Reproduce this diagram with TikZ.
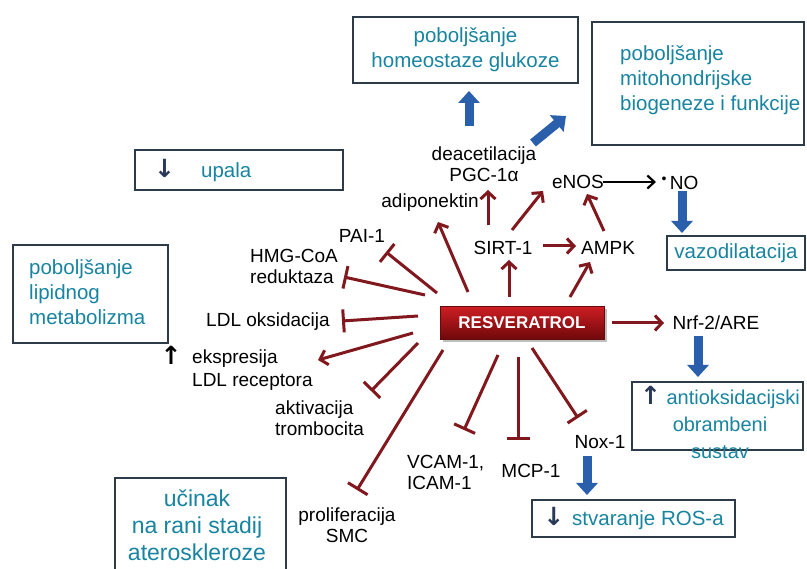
\documentclass[tikz,border=0pt]{standalone}
\usepackage{fontspec}
\setmainfont{Liberation Sans}
\newfontfamily\symf{DejaVu Sans}
\newcommand{\bigar}[1]{{\symf\bfseries\fontsize{25}{25}\selectfont #1}}
\usetikzlibrary{arrows.meta,calc,shadows}
\definecolor{tealc}{RGB}{24,132,160}
\definecolor{boxc}{RGB}{45,58,72}
\definecolor{redc}{RGB}{128,24,30}
\definecolor{bluec}{RGB}{42,95,172}
\definecolor{arrc}{RGB}{40,58,88}
\begin{document}
\begin{tikzpicture}[x=1pt,y=-1pt,
  lbl/.style={inner sep=1pt, font=\fontsize{19}{21}\selectfont, align=center},
  lbll/.style={lbl, align=left, anchor=west},
  tbox/.style={draw=boxc, line width=1.9pt, fill=white, inner sep=0pt},
  ttxt/.style={text=tealc, font=\fontsize{20.5}{25}\selectfont, inner sep=1pt},
  act/.style={draw=redc, line width=3pt, -{Straight Barb[length=7pt,width=15pt]}},
  inh/.style={draw=redc, line width=3pt, -{Bar[width=23pt]}},
  bigarr/.style={draw=bluec, line width=9pt, -{Triangle[length=12pt,width=21pt]}},
  blk/.style={draw=black, line width=2.2pt, -{Straight Barb[length=7pt,width=13pt]}}
]
\clip (0,0) rectangle (807,569);
\fill[white] (0,0) rectangle (807,569);

% boxes
\node[tbox, ttxt, align=center, minimum width=225pt, minimum height=66pt] (gluc) at (465.5,50) {poboljšanje\\homeostaze glukoze};
\node[tbox, minimum width=212pt, minimum height=123pt] (mito) at (698,83.5) {};
\node[ttxt, align=left, anchor=west] (mitoT) at (619,80) {poboljšanje\\mitohondrijske\\biogeneze i funkcije};
\node[tbox, minimum width=208pt, minimum height=40pt] (upala) at (239,170) {};
\node[ttxt, anchor=west] (upalaT) at (153,171) {{\color{arrc}\bigar{↓}}\hspace{26pt}upala};
\node[tbox, minimum width=155pt, minimum height=98pt] (lipid) at (90.5,294) {};
\node[ttxt, align=left, anchor=west] (lipidT) at (28,292) {poboljšanje\\lipidnog\\metabolizma};
\node[tbox, ttxt, minimum width=138pt, minimum height=34pt] (vazo) at (736,253) {vazodilatacija};
\node[tbox, minimum width=171pt, minimum height=68pt] (ant) at (717.5,416) {};
\node[ttxt, align=center, font=\fontsize{20}{27}\selectfont] (antT) at (720,422) {{\color{arrc}\bigar{↑}} antioksidacijski\\obrambeni\\sustav};
\node[tbox, ttxt, minimum width=203pt, minimum height=37pt] (ros) at (633.5,518.5) {{\color{arrc}\bigar{↓}}\hspace{8pt}stvaranje ROS-a};
\node[tbox, minimum width=171pt, minimum height=110pt] (ucin) at (200.5,533) {};
\node[ttxt, align=center, font=\fontsize{23}{27}\selectfont] (ucinT) at (197,525) {učinak\\na rani stadij\\ateroskleroze};

% central node
\node[top color={rgb,255:red,205;green,30;blue,35}, bottom color={rgb,255:red,110;green,8;blue,10},
      draw={rgb,255:red,100;green,10;blue,12}, line width=0.6pt, drop shadow,
      minimum width=164pt, minimum height=33pt, text=white,
      font=\bfseries\fontsize{17}{17}\selectfont] (res) at (522,323) {RESVERATROL};

% labels
\node[lbl] (deac) at (484,164) {deacetilacija\\PGC-1α};
\node[lbl] (adipo) at (430,203) {adiponektin};
\node[lbl] (enos) at (578,182) {eNOS};
\node[lbl] (no) at (680,183) {\raisebox{6pt}{\fontsize{14}{14}\selectfont •}\,NO};
\node[lbl] (sirt) at (503,248) {SIRT-1};
\node[lbl] (ampk) at (608,248) {AMPK};
\node[lbl] (pai) at (362,236) {PAI-1};
\node[lbll] (hmg) at (249,266) {HMG-CoA\\reduktaza};
\node[lbl] (ldlox) at (268,322) {LDL oksidacija};
\node[lbl] (upar) at (171,355) {\bigar{↑}};
\node[lbll] (ekspr) at (191,370) {ekspresija\\[2pt]LDL receptora};
\node[lbll] (aktiv) at (274,418) {aktivacija\\trombocita};
\node[lbll] (vcam) at (406,472) {VCAM-1,\\ICAM-1};
\node[lbl] (mcp) at (531,471) {MCP-1};
\node[lbl] (nox) at (600,442) {Nox-1};
\node[lbl] (nrf) at (716,323) {Nrf-2/ARE};
\node[lbl] (prolif) at (347,525) {proliferacija\\SMC};

% activating arrows
\draw[act] ($(res)+(-54,-31)$) -- ($(adipo)+(8,19)$);
\draw[act] ($(res)+(-13,-26)$) -- ($(sirt)+(6,12)$);
\draw[act] ($(res)+(48,-26)$) -- ($(ampk)+(-18,14)$);
\draw[act] ($(sirt)+(-15,-23)$) -- ($(deac)+(4,26)$);
\draw[act] ($(sirt)+(9,-18)$) -- ($(enos)+(-35,9)$);
\draw[act] ($(sirt)+(40,-2)$) -- ($(ampk)+(-32,-2)$);
\draw[act] ($(ampk)+(-4,-17)$) -- ($(enos)+(9,12)$);
\draw[blk] ($(enos)+(25,0)$) -- ($(no)+(-24,-1)$);
\draw[act] ($(res)+(90,0)$) -- ($(nrf)+(-52,0)$);
\draw[act] ($(res)+(-109,10)$) -- ($(ekspr.west)+(127,-10)$);

% inhibitions
\draw[inh] ($(res)+(-85,-30)$) -- ($(pai)+(24,16)$);
\draw[inh] ($(res)+(-97,-28)$) -- ($(hmg.west)+(95,11)$);
\draw[inh] ($(res)+(-104,-7)$) -- ($(ldlox)+(74,-1)$);
\draw[inh] ($(res)+(-104,20)$) -- ($(aktiv.west)+(97,-27)$);
\draw[inh] ($(res)+(-79,27)$) -- ($(prolif)+(10,-35)$);
\draw[inh] ($(res)+(-24,32)$) -- ($(vcam.west)+(58,-42)$);
\draw[inh] ($(res)+(-4,34)$) -- ($(mcp)+(-13,-31)$);
\draw[inh] ($(res)+(10,25)$) -- ($(nox)+(-22,-24)$);

% big blue arrows
\draw[bigarr] ($(deac)+(-15,-38)$) -- ($(gluc)+(3.5,41)$);
\draw[bigarr] ($(deac)+(49,-21)$) -- ($(mito)+(-132,32.5)$);
\draw[bigarr] ($(no)+(2,8)$) -- ($(vazo)+(-54,-20)$);
\draw[bigarr] ($(nrf)+(-18,13)$) -- ($(ant)+(-19.5,-39)$);
\draw[bigarr] ($(nox)+(-13,14)$) -- ($(ros)+(-46.5,-23.5)$);
\end{tikzpicture}
\end{document}
